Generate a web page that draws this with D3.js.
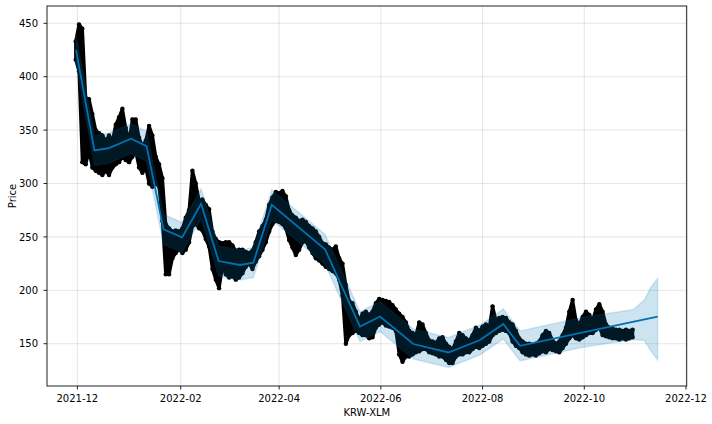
<!DOCTYPE html>
<html><head><meta charset="utf-8">
<script src="https://cdn.jsdelivr.net/npm/d3@7"></script>
<style>body{margin:0;background:#fff}svg{display:block}text{font-family:"DejaVu Sans",sans-serif;font-size:10px;fill:#000}</style>
</head><body><svg id="c" width="712" height="424"></svg>
<script>
// ---- data ----
const obsStart = "2021-11-30";        // first 2-day slot
const obsStepDays = 2;
const obsHigh = [433,449,445,380,379,365,350,347,345,340,
 345,340,355,362,370,352,340,360,360,343,
 335,340,354,345,325,318,305,262,258,255,
 256,255,258,268,275,312,300,284,285,280,
 276,255,248,245,244,245,245,242,237,238,
 238,236,235,237,245,255,260,266,280,287,
 292,291,293,288,275,270,268,265,266,264,
 260,258,255,250,244,243,240,238,241,230,
 225,205,190,188,180,172,178,180,177,180,
 188,192,191,190,189,186,182,178,175,170,
 162,160,158,170,168,160,153,152,151,155,
 156,150,147,145,152,160,158,155,153,158,
 165,162,166,168,165,185,172,174,175,174,
 170,168,162,155,152,150,150,149,150,152,
 158,162,160,153,150,152,158,165,180,191,
 172,168,175,180,177,172,182,187,180,168,
 165,164,163,163,162,163,162,163];
const obsLow = [416,405,320,318,330,315,312,310,308,312,
 308,315,318,320,325,322,320,325,330,315,
 310,315,300,297,300,297,265,215,215,230,
 235,238,235,238,245,260,262,258,256,248,
 241,220,210,202,222,215,212,213,210,212,
 216,222,225,220,227,232,238,245,255,262,
 265,264,262,258,247,240,233,238,245,246,
 240,235,230,228,225,222,220,218,216,210,
 195,150,158,160,162,160,158,158,155,156,
 165,168,170,167,166,165,162,140,133,138,
 138,140,142,143,145,145,142,141,140,138,
 138,135,132,132,138,140,140,142,142,145,
 147,146,148,150,152,158,160,162,163,162,
 160,152,148,146,142,140,139,140,139,141,
 143,142,145,144,143,142,146,150,155,158,
 155,154,156,158,160,160,163,165,158,157,
 156,155,155,154,155,154,155,156];

const fcDates = ["2021-11-30T05:00","2021-12-11T05:00","2021-12-19T14:00","2022-01-02T05:00","2022-01-11T12:00",
 "2022-01-21T17:00","2022-02-01T19:00","2022-02-13T05:00","2022-02-23T17:00","2022-03-08T14:00",
 "2022-03-16T12:00","2022-03-27T14:00","2022-04-28T12:00","2022-05-19T12:00","2022-05-31T12:00",
 "2022-06-20T12:00","2022-07-11T12:00","2022-07-30T12:00","2022-08-13T10:00","2022-08-23T12:00",
 "2022-09-30T05:00","2022-11-14T00:00"];
const yhat = [425,331,333,342,335,257,249.5,281,227.4,223.7,225.8,280,238.5,166,175.5,149.7,141.8,153.5,168.4,148,160.7,175.3];

const bandDates = ["2021-11-30T05:00","2021-12-11T05:00","2021-12-19T14:00","2022-01-02T05:00","2022-01-11T12:00",
 "2022-01-21T17:00","2022-02-01T19:00","2022-02-13T05:00","2022-02-23T17:00","2022-03-08T14:00",
 "2022-03-16T12:00","2022-03-27T14:00","2022-04-28T12:00","2022-05-19T12:00","2022-05-31T12:00",
 "2022-06-20T12:00","2022-07-11T12:00","2022-07-30T12:00","2022-08-13T10:00","2022-08-23T12:00",
 "2022-09-30T05:00","2022-10-30T12:00","2022-11-06T00:00","2022-11-10T00:00","2022-11-14T00:00"];
const bandLower = [411,317,319,328,321,243,235.5,267,213.4,209.7,211.8,266,224.5,152,161.5,135.7,127.8,139.5,154.4,134,146.7,154,153,143,134.7];
const bandUpper = [439,345,347,356,349,271,263.5,295,241.4,237.7,239.8,294,252.5,180,189.5,163.7,155.8,167.5,182.4,162,174.7,182,191,203,211.3];

const xTickLabels = ["2021-12","2022-02","2022-04","2022-06","2022-08","2022-10","2022-12"];
const yTickValues = [150,200,250,300,350,400,450];
const xTitle = "KRW-XLM", yTitle = "Price";

// ---- layout ----
const L = 47, T = 6, R = 686.7, B = 386;
const svg = d3.select("#c");
const parse = d3.utcParse("%Y-%m-%dT%H:%M");
const pDay = d3.utcParse("%Y-%m-%d");
const pMon = d3.utcParse("%Y-%m");
const x = d3.scaleUtc().domain([parse("2021-11-12T19:00"), parse("2022-12-01T10:00")]).range([L, R]);
const y = d3.scaleLinear().domain([110.4, 466.2]).range([B, T]);

// grid
const g = svg.append("g");
g.selectAll(".vg").data(xTickLabels).join("line")
  .attr("x1", d => x(pMon(d))).attr("x2", d => x(pMon(d))).attr("y1", T).attr("y2", B)
  .attr("stroke", "#808080").attr("stroke-opacity", 0.2).attr("stroke-width", 1);
g.selectAll(".hg").data(yTickValues).join("line")
  .attr("x1", L).attr("x2", R).attr("y1", d => y(d)).attr("y2", d => y(d))
  .attr("stroke", "#808080").attr("stroke-opacity", 0.2).attr("stroke-width", 1);

// observations: dense hourly cloud drawn as the envelope of 2-day highs/lows
const t0 = pDay(obsStart);
const obs = obsHigh.map((h, i) => [d3.utcDay.offset(t0, i * obsStepDays), obsLow[i], h]);
const clip = svg.append("clipPath").attr("id", "cp").append("rect").attr("x", L).attr("y", T).attr("width", R - L).attr("height", B - T);
const plot = svg.append("g").attr("clip-path", "url(#cp)");
plot.append("path").datum(obs)
  .attr("d", d3.area().x(d => x(d[0])).y0(d => y(d[1])).y1(d => y(d[2])))
  .attr("fill", "#000").attr("stroke", "#000").attr("stroke-width", 3.2)
  .attr("stroke-linejoin", "round");
// point markers at slot extremes
const pts = obs.flatMap(d => [[d[0], d[1]], [d[0], d[2]]]);
plot.selectAll("circle").data(pts).join("circle")
  .attr("cx", d => x(d[0])).attr("cy", d => y(d[1])).attr("r", 2.2).attr("fill", "#000");

// yhat line
const fc = fcDates.map((d, i) => [parse(d), yhat[i]]);
plot.append("path").datum(fc)
  .attr("d", d3.line().x(d => x(d[0])).y(d => y(d[1])))
  .attr("fill", "none").attr("stroke", "#0072B2").attr("stroke-width", 1.8);

// uncertainty band
const band = bandDates.map((d, i) => [parse(d), bandLower[i], bandUpper[i]]);
plot.append("path").datum(band)
  .attr("d", d3.area().x(d => x(d[0])).y0(d => y(d[1])).y1(d => y(d[2])))
  .attr("fill", "#0072B2").attr("fill-opacity", 0.2)
  .attr("stroke", "#0072B2").attr("stroke-opacity", 0.15).attr("stroke-width", 1.5);

// axes frame
svg.append("rect").attr("x", L).attr("y", T).attr("width", R - L).attr("height", B - T)
  .attr("fill", "none").attr("stroke", "#222").attr("stroke-width", 1);

// ticks + labels
const ax = svg.append("g");
ax.selectAll(".xt").data(xTickLabels).join("line")
  .attr("x1", d => x(pMon(d))).attr("x2", d => x(pMon(d))).attr("y1", B).attr("y2", B + 3.5)
  .attr("stroke", "#222");
ax.selectAll(".xl").data(xTickLabels).join("text")
  .attr("x", d => x(pMon(d))).attr("y", 401.5).attr("text-anchor", "middle").text(d => d);
ax.selectAll(".yt").data(yTickValues).join("line")
  .attr("x1", L - 3.5).attr("x2", L).attr("y1", d => y(d)).attr("y2", d => y(d))
  .attr("stroke", "#222");
ax.selectAll(".yl").data(yTickValues).join("text")
  .attr("x", 38).attr("y", d => y(d) + 3.6).attr("text-anchor", "end").text(d => d);
svg.append("text").attr("x", (L + R) / 2).attr("y", 415.5).attr("text-anchor", "middle").text(xTitle);
svg.append("text").attr("transform", `translate(15.5,${(T + B) / 2}) rotate(-90)`).attr("text-anchor", "middle").text(yTitle);
</script></body></html>
